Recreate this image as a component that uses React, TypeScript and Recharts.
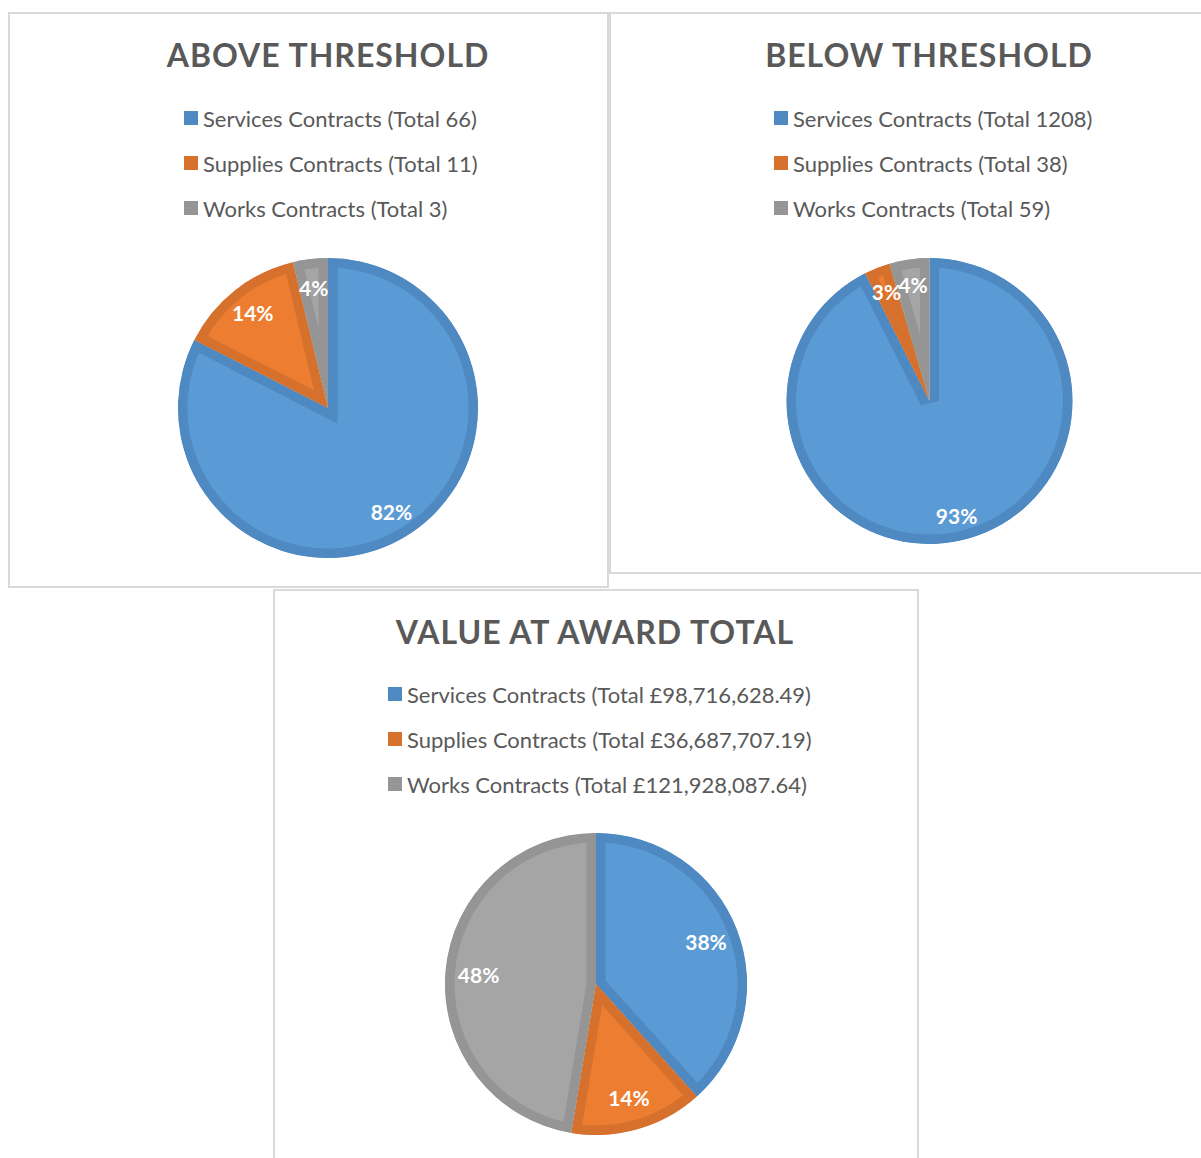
import { useId } from "react";
import { Pie, PieChart } from "recharts";

const CATEGORIES = ["Services Contracts", "Supplies Contracts", "Works Contracts"];
const ABOVE_VALUES = [66, 11, 3];
const ABOVE_LABELS = ["82%", "14%", "4%"];
const BELOW_VALUES = [1208, 38, 59];
const BELOW_LABELS = ["93%", "3%", "4%"];
const AWARD_VALUES = [98716628.49, 36687707.19, 121928087.64];
const AWARD_LABELS = ["38%", "14%", "48%"];

const FILLS = ["#5B9BD5", "#ED7D31", "#A5A5A5"];
const EDGES = ["#4F89C1", "#D5712C", "#959595"];
const FONT = "Lato, 'Open Sans', sans-serif";
const TEXT = "#595959";
const RADIAN = Math.PI / 180;

const fmtMoney = (v: number) =>
  "£" + v.toLocaleString("en-GB", { minimumFractionDigits: 2, maximumFractionDigits: 2 });

function pt(cx: number, cy: number, r: number, a: number) {
  return [cx + Math.cos(-a * RADIAN) * r, cy + Math.sin(-a * RADIAN) * r];
}

// excel-style slice: lighter fill with a border drawn on the inside
function BorderedSector(props: any) {
  const uid = useId().replace(/:/g, "");
  const { cx, cy, outerRadius, startAngle, endAngle } = props;
  const idx = Math.max(0, CATEGORIES.indexOf(props.payload?.cat ?? props.cat));
  const [x1, y1] = pt(cx, cy, outerRadius, startAngle);
  const [x2, y2] = pt(cx, cy, outerRadius, endAngle);
  const large = Math.abs(startAngle - endAngle) > 180 ? 1 : 0;
  const sweep = startAngle > endAngle ? 1 : 0;
  const d = `M${cx},${cy} L${x1},${y1} A${outerRadius},${outerRadius} 0 ${large} ${sweep} ${x2},${y2} Z`;
  return (
    <g>
      <defs>
        <clipPath id={`c${uid}`}>
          <path d={d} />
        </clipPath>
      </defs>
      <path
        d={d}
        fill={FILLS[idx]}
        stroke={EDGES[idx]}
        strokeWidth={19}
        strokeLinejoin="miter"
        clipPath={`url(#c${uid})`}
      />
    </g>
  );
}

function makeLabel(factor: number) {
  return (p: any) => {
    const r = p.outerRadius * factor;
    const x = p.cx + r * Math.cos(-p.midAngle * RADIAN);
    const y = p.cy + r * Math.sin(-p.midAngle * RADIAN);
    return (
      <text
        x={x}
        y={y}
        fill="#fff"
        textAnchor="middle"
        dominantBaseline="central"
        fontFamily={FONT}
        fontWeight={700}
        fontSize={21}
      >
        {p.payload?.label ?? p.label}
      </text>
    );
  };
}

type PanelProps = {
  left: number;
  top: number;
  width: number;
  height: number;
  title: string;
  titleX: number;
  legendX: number;
  legendY: number;
  values: number[];
  labels: string[];
  totals: string[];
  cx: number;
  cy: number;
  r: number;
  labelAt: number;
};

function Panel(p: PanelProps) {
  const data = CATEGORIES.map((c, i) => ({ cat: c, value: p.values[i], label: p.labels[i] }));
  const inner = { w: p.width - 4, h: p.height - 4 };
  return (
    <div
      style={{
        position: "absolute",
        left: p.left,
        top: p.top,
        width: p.width,
        height: p.height,
        boxSizing: "border-box",
        border: "2px solid #D9D9D9",
        background: "#fff",
        fontFamily: FONT,
      }}
    >
      <div
        style={{
          position: "absolute",
          left: p.titleX - 300,
          width: 600,
          top: 25,
          lineHeight: "32px",
          textAlign: "center",
          fontSize: 32,
          fontWeight: 700,
          letterSpacing: 1,
          color: TEXT,
        }}
      >
        {p.title}
      </div>
      {CATEGORIES.map((c, i) => (
        <div
          key={c}
          style={{
            position: "absolute",
            left: p.legendX,
            top: p.legendY + i * 45 - 13,
            height: 24,
            display: "flex",
            alignItems: "center",
            whiteSpace: "nowrap",
            fontSize: 22,
            color: TEXT,
          }}
        >
          <span
            style={{ width: 14, height: 14, background: EDGES[i], marginRight: 5, display: "inline-block" }}
          />
          {`${c} (Total ${p.totals[i]})`}
        </div>
      ))}
      <div style={{ position: "absolute", left: 0, top: 0 }}>
        <PieChart width={inner.w} height={inner.h} margin={{ top: 0, right: 0, bottom: 0, left: 0 }}>
          <Pie
            data={data}
            dataKey="value"
            nameKey="cat"
            cx={p.cx}
            cy={p.cy}
            outerRadius={p.r}
            startAngle={90}
            endAngle={-270}
            stroke="none"
            labelLine={false}
            label={makeLabel(p.labelAt)}
            shape={(sp: any) => <BorderedSector {...sp} />}
            isAnimationActive={false}
          />
        </PieChart>
      </div>
    </div>
  );
}

export default function App() {
  return (
    <div
      style={{
        position: "absolute",
        left: 0,
        top: 0,
        width: 1201,
        height: 1158,
        overflow: "hidden",
        background: "#fff",
      }}
    >
      <Panel
        left={8}
        top={12}
        width={601}
        height={576}
        title="ABOVE THRESHOLD"
        titleX={318}
        legendX={174}
        legendY={105}
        values={ABOVE_VALUES}
        labels={ABOVE_LABELS}
        totals={ABOVE_VALUES.map(String)}
        cx={318}
        cy={394}
        r={150}
        labelAt={0.81}
      />
      <Panel
        left={609}
        top={12}
        width={600}
        height={562}
        title="BELOW THRESHOLD"
        titleX={318}
        legendX={163}
        legendY={105}
        values={BELOW_VALUES}
        labels={BELOW_LABELS}
        totals={BELOW_VALUES.map(String)}
        cx={318.5}
        cy={387}
        r={143}
        labelAt={0.82}
      />
      <Panel
        left={273}
        top={589}
        width={646}
        height={600}
        title="VALUE AT AWARD TOTAL"
        titleX={320}
        legendX={113}
        legendY={104}
        values={AWARD_VALUES}
        labels={AWARD_LABELS}
        totals={AWARD_VALUES.map(fmtMoney)}
        cx={321}
        cy={393}
        r={151}
        labelAt={0.78}
      />
    </div>
  );
}
